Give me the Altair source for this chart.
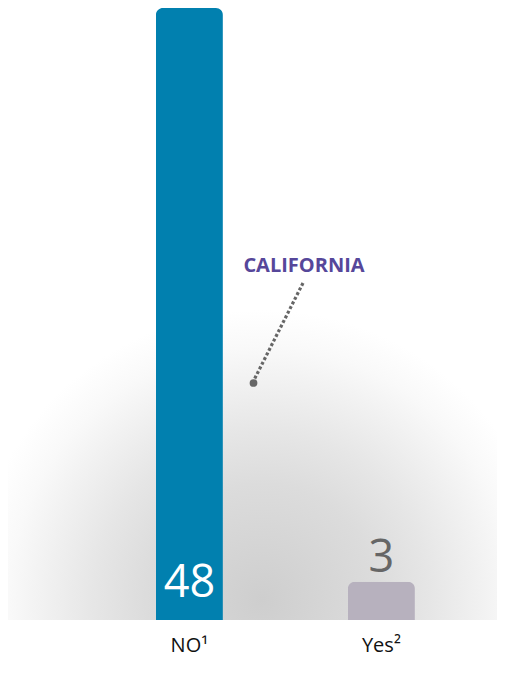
import altair as alt
import pandas as pd

# ---- data ----
categories = ["NO", "Yes"]
axis_labels = ["NO\u00b9", "Yes\u00b2"]
values = [48, 3]
bar_colors = ["#0180AF", "#B7B1BE"]
label_colors = ["#FFFFFF", "#666666"]
label_inside = [True, False]
annotation_text = ["CALIFORNIA"]

df = pd.DataFrame({
    "cat": categories,
    "label": axis_labels,
    "value": values,
    "color": bar_colors,
    "tcolor": label_colors,
    "inside": label_inside,
})

W, H = 489, 612

xscale = alt.Scale(domain=categories, paddingInner=0.651, paddingOuter=0.599, align=0.643)
yscale = alt.Scale(domain=[0, 48], nice=False, zero=True)

label_expr = "datum.value == 'NO' ? 'NO\u00b9' : 'Yes\u00b2'"

xenc = alt.X("cat:N", scale=xscale, sort=categories,
             axis=alt.Axis(title=None, labelExpr=label_expr, labelAngle=0, ticks=False,
                           domain=False, labelFont="Open Sans", labelFontSize=20,
                           labelColor="#111111", labelPadding=15))
yenc = alt.Y("value:Q", scale=yscale, axis=None)

base = alt.Chart(df)

bars = base.mark_bar(cornerRadiusTopLeft=7, cornerRadiusTopRight=7).encode(
    x=xenc, y=yenc, color=alt.Color("color:N", scale=None)
)

inside_text = base.transform_filter("datum.inside").transform_calculate(zero="0").mark_text(
    font="Open Sans", fontSize=45, baseline="bottom", dy=-14
).encode(x=xenc, y=alt.Y("zero:Q", scale=yscale, axis=None), text="value:Q",
         color=alt.Color("tcolor:N", scale=None))

outside_text = base.transform_filter("!datum.inside").mark_text(
    font="Open Sans", fontSize=45, baseline="bottom", dy=-1
).encode(x=xenc, y=yenc, text="value:Q", color=alt.Color("tcolor:N", scale=None))

ann_df = pd.DataFrame({"t": annotation_text})
ann_text = alt.Chart(ann_df).mark_text(
    font="Open Sans", fontSize=20, fontWeight="bold", color="#56479A", baseline="middle"
).encode(x=alt.value(296), y=alt.value(258), text="t:N")

ann_line = alt.Chart(ann_df).mark_rule(
    color="#666666", strokeWidth=3.2, strokeDash=[3, 2.2]
).encode(x=alt.value(295), y=alt.value(275), x2=alt.value(246), y2=alt.value(372))

ann_dot = alt.Chart(ann_df).mark_point(
    filled=True, color="#666666", size=60, opacity=1
).encode(x=alt.value(245.5), y=alt.value(375))

# background radial shadow
bg = alt.Chart(ann_df).mark_rect(
    fill=alt.Gradient(
        gradient="radial",
        stops=[
            alt.GradientStop(color="#cecece", offset=0),
            alt.GradientStop(color="#dcdcdc", offset=0.4),
            alt.GradientStop(color="#e6e6e6", offset=0.58),
            alt.GradientStop(color="#f1f1f1", offset=0.75),
            alt.GradientStop(color="#f9f9f9", offset=0.87),
            alt.GradientStop(color="#ffffff", offset=1),
        ],
        x1=0.5155, y1=0.967, r1=0,
        x2=0.5155, y2=0.967, r2=0.474,
    ),
).encode(x=alt.value(0), x2=alt.value(W), y=alt.value(0), y2=alt.value(H))

chart = alt.layer(bg, bars, inside_text, outside_text, ann_line, ann_dot, ann_text).properties(
    width=W, height=H, padding={"left": 0, "top": 0, "right": 0, "bottom": 40},
    autosize=alt.AutoSizeParams(type="none"),
).configure_view(stroke=None)

chart.save("out.html", embed_options={"renderer": "svg", "actions": False})
